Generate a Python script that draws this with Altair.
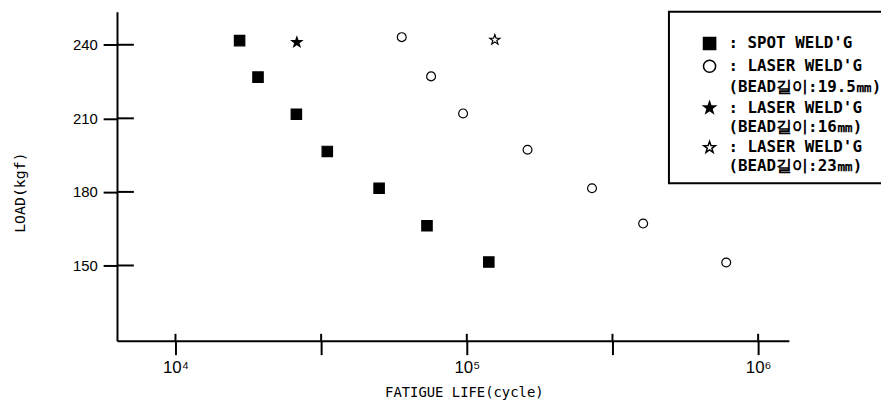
import json
import altair as alt
import pandas as pd

# ---- data ----
spot_life = [16600, 19200, 26000, 33200, 50000, 73000, 119000]
spot_load = [241.7, 226.8, 211.7, 196.5, 181.5, 166.2, 151.4]

laser195_life = [59800, 75400, 97100, 161600, 269000, 403000, 777000]
laser195_load = [243.1, 227.1, 212.0, 197.2, 181.5, 167.1, 151.2]

laser16_life = [26100]
laser16_load = [241.0]

laser23_life = [124800]
laser23_load = [242.0]

legend_keys = ["spot", "l195", "l195b", "l16", "l16b", "l23", "l23b"]
legend_labels = [
    "\u00a0: SPOT WELD'G",
    "\u00a0: LASER WELD'G",
    "(BEAD길이:19.5㎜)\u00a0\u00a0\u00a0\u00a0\u00a0",
    "\u00a0: LASER WELD'G",
    "(BEAD길이:16㎜)",
    "\u00a0: LASER WELD'G",
    "(BEAD길이:23㎜)",
]

y_ticks = [150, 180, 210, 240]
x_ticks = [1e4, 10 ** 4.5, 1e5, 10 ** 5.5, 1e6]
x_tick_labels = ["10⁴", "", "10⁵", "", "10⁶"]

# ---- styles ----
STAR = ("M0,-1L0.235,-0.324L0.951,-0.309L0.38,0.124L0.588,0.809L0,0.4"
        "L-0.588,0.809L-0.38,0.124L-0.951,-0.309L-0.235,-0.324Z")
EMPTY = "M0,0"
shape_range = ["square", "circle", EMPTY, STAR, EMPTY, STAR, EMPTY]
fill_range = ["black", "white", "white", "black", "white", "white", "white"]

W, H = 678, 332


def frame(key, lives, loads):
    return pd.DataFrame({"life": lives, "load": loads, "key": [key] * len(lives)})


label_expr = ""
for k, lab in zip(legend_keys, legend_labels):
    label_expr += f"datum.value == {json.dumps(k)} ? {json.dumps(lab, ensure_ascii=False)} : "
label_expr += "''"

x_label_expr = ""
for v, lab in zip(x_ticks, x_tick_labels):
    if lab:
        x_label_expr += f"datum.value == {int(round(v))} ? {json.dumps(lab, ensure_ascii=False)} : "
x_label_expr += "''"

x_scale = alt.Scale(type="log", domain=[10 ** 3.7993, 10 ** 6.1054], nice=False)
y_scale = alt.Scale(domain=[119.3, 253.45], zero=False, nice=False)

x_axis = alt.Axis(
    values=x_ticks, labelExpr=x_label_expr, grid=False,
    tickSize=14, tickWidth=2, tickColor="black",
    domainWidth=2, domainColor="black",
    labelFont="Liberation Sans", labelFontSize=17, labelColor="black",
    labelPadding=5, labelFlush=False, labelOverlap=False,
    title="FATIGUE LIFE(cycle)", titleFont="DejaVu Sans Mono",
    titleFontSize=14, titleFontWeight="normal", titleColor="black",
    titleX=350, titleY=52, titleAlign="center", titleBaseline="middle",
)
y_axis = alt.Axis(
    values=y_ticks, grid=False,
    tickSize=14, tickWidth=2, tickColor="black",
    domainWidth=2, domainColor="black",
    labelFont="Liberation Sans", labelFontSize=15, labelColor="black",
    labelPadding=6,
    title="LOAD(kgf)", titleFont="DejaVu Sans Mono",
    titleFontSize=15, titleFontWeight="normal", titleColor="black",
    titleX=-98, titleY=182, titleAngle=270, titleAlign="center",
    titleBaseline="middle",
)

legend = alt.Legend(
    title="\u00a0", titleFontSize=10, titlePadding=5,
    labelExpr=label_expr,
    labelFont="DejaVu Sans Mono", labelFontSize=16,
    labelFontWeight="bold", labelColor="black", labelLimit=400,
    offset=-121, padding=9, rowPadding=3,
    symbolSize=150,
    symbolOffset=24, labelOffset=11,
    strokeColor="black", fillColor="white",
)

shape_enc = alt.Shape("key:N", scale=alt.Scale(domain=legend_keys, range=shape_range), legend=legend)
fill_enc = alt.Fill("key:N", scale=alt.Scale(domain=legend_keys, range=fill_range), legend=legend)


def point_layer(data, size):
    return alt.Chart(data).mark_point(
        opacity=1, stroke="black", strokeWidth=1.2, filled=False, size=size
    ).encode(
        x=alt.X("life:Q", scale=x_scale, axis=x_axis, title="FATIGUE LIFE(cycle)"),
        y=alt.Y("load:Q", scale=y_scale, axis=y_axis, title="LOAD(kgf)"),
        shape=shape_enc,
        fill=fill_enc,
    )


spot_pts = point_layer(frame("spot", spot_life, spot_load), 110)
l195_pts = point_layer(frame("l195", laser195_life, laser195_load), 80)
l16_pts = point_layer(frame("l16", laser16_life, laser16_load), 115)
l23_pts = point_layer(frame("l23", laser23_life, laser23_load), 115)

yin = alt.Chart(pd.DataFrame({"load": y_ticks})).mark_rule(
    color="black", strokeWidth=2
).encode(
    y=alt.Y("load:Q", scale=y_scale, axis=y_axis, title="LOAD(kgf)"),
    x=alt.value(0), x2=alt.value(17),
)

xin = alt.Chart(pd.DataFrame({"life": x_ticks})).mark_rule(
    color="black", strokeWidth=2
).encode(
    x=alt.X("life:Q", scale=x_scale, axis=x_axis, title="FATIGUE LIFE(cycle)"),
    y=alt.value(H - 7), y2=alt.value(H),
)

chart = alt.layer(spot_pts, l195_pts, l16_pts, l23_pts, yin, xin).properties(
    width=W, height=H,
    autosize=alt.AutoSizeParams(type="none"),
    padding={"left": 110, "top": 2, "right": 93, "bottom": 62},
    background="white",
).configure_view(stroke=None).configure_legend(strokeWidth=2)

chart.save("out.html", embed_options={"renderer": "svg", "actions": False})
